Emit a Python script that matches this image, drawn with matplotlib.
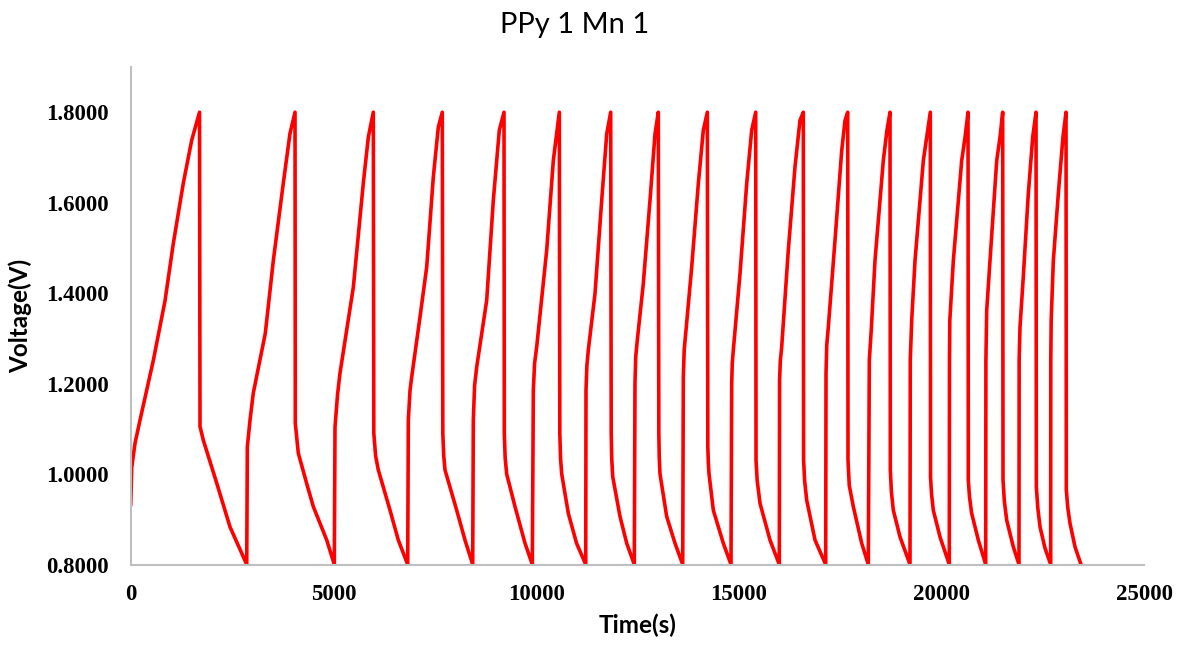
import matplotlib
matplotlib.use("Agg")
import matplotlib.pyplot as plt

# donnees (temps en s, tension en V) -------------------------------------

time_s = [
    0, 25, 106, 229, 557, 846, 1051, 1297, 1504, 1697,          # charge 1
    1709, 1790, 2121, 2449, 2861,                               # decharge 1
    2876, 2942, 3023, 3319, 3517, 3763, 3928, 4052,             # charge 2
    4059, 4133, 4340, 4503, 4834, 5021,                         # decharge 2
    5038, 5100, 5161, 5490, 5736, 5860, 5983,
    5995, 6040, 6106, 6395, 6599, 6831,
    6846, 6888, 6930, 7134, 7300, 7462, 7586, 7684,
    7697, 7720, 7751, 8039, 8244, 8434,
    8449, 8480, 8533, 8779, 8942, 9090, 9206,
    9213, 9235, 9272, 9477, 9724, 9904,
    9929, 9960, 10012, 10259, 10422, 10570,
    10582, 10600, 10629, 10792, 10995, 11221,
    11228, 11250, 11285, 11450, 11615, 11739, 11837,
    11850, 11862, 11887, 12067, 12232, 12419,
    12436, 12455, 12493, 12641, 12806, 12930, 13011,
    13024, 13035, 13053, 13218, 13423, 13613,
    13628, 13650, 13687, 13835, 13998, 14121, 14220,
    14232, 14245, 14262, 14368, 14614, 14804,
    14821, 14835, 14861, 15026, 15191, 15314, 15413,
    15421, 15450, 15520, 15766, 15995,
    16002, 16020, 16054, 16217, 16382, 16505, 16587,
    16594, 16620, 16671, 16876, 17139,
    17147, 17165, 17204, 17369, 17534, 17616, 17682,
    17689, 17720, 17820, 18027, 18190,
    18215, 18262, 18355, 18560, 18650, 18725,
    18733, 18760, 18807, 18972, 19218,
    19225, 19260, 19342, 19547, 19630, 19719,
    19724, 19750, 19793, 19958, 20187,
    20192, 20200, 20287, 20493, 20576, 20649,
    20656, 20685, 20739, 20903, 21085,
    21090, 21110, 21191, 21357, 21438, 21504,
    21512, 21545, 21603, 21766, 21906,
    21910, 21931, 22012, 22136, 22244, 22326,
    22334, 22370, 22425, 22548, 22688,
    22690, 22700, 22753, 22876, 22990, 23066,
    23073, 23110, 23164, 23288, 23435,
]

voltage = [
    0.931, 1.015, 1.068, 1.119, 1.251, 1.383, 1.510, 1.643, 1.738, 1.800,
    1.105, 1.075, 0.980, 0.883, 0.800,
    1.060, 1.119, 1.179, 1.311, 1.472, 1.643, 1.753, 1.800,
    1.112, 1.046, 0.979, 0.928, 0.854, 0.800,
    1.104, 1.175, 1.223, 1.413, 1.643, 1.745, 1.800,
    1.090, 1.040, 1.009, 0.920, 0.854, 0.800,
    1.119, 1.185, 1.215, 1.347, 1.458, 1.656, 1.767, 1.800,
    1.090, 1.040, 1.009, 0.920, 0.854, 0.800,
    1.119, 1.195, 1.237, 1.384, 1.605, 1.760, 1.800,
    1.090, 1.035, 1.000, 0.928, 0.847, 0.800,
    1.185, 1.245, 1.281, 1.495, 1.693, 1.800,
    1.090, 1.035, 1.000, 0.913, 0.847, 0.800,
    1.185, 1.240, 1.274, 1.399, 1.605, 1.752, 1.800,
    1.090, 1.035, 0.994, 0.906, 0.847, 0.800,
    1.201, 1.260, 1.296, 1.421, 1.605, 1.752, 1.800,
    1.090, 1.035, 1.000, 0.906, 0.847, 0.800,
    1.215, 1.275, 1.311, 1.458, 1.642, 1.760, 1.800,
    1.060, 1.025, 1.000, 0.920, 0.847, 0.800,
    1.200, 1.245, 1.274, 1.443, 1.642, 1.760, 1.800,
    1.031, 0.985, 0.935, 0.854, 0.800,
    1.207, 1.250, 1.281, 1.495, 1.679, 1.782, 1.800,
    1.031, 0.985, 0.942, 0.854, 0.800,
    1.222, 1.285, 1.325, 1.517, 1.715, 1.782, 1.800,
    1.031, 0.975, 0.928, 0.847, 0.800,
    1.252, 1.318, 1.472, 1.693, 1.760, 1.800,
    1.009, 0.960, 0.920, 0.861, 0.800,
    1.252, 1.340, 1.472, 1.693, 1.745, 1.800,
    0.994, 0.955, 0.920, 0.861, 0.800,
    1.252, 1.340, 1.472, 1.693, 1.745, 1.800,
    0.987, 0.950, 0.913, 0.854, 0.800,
    1.252, 1.362, 1.472, 1.693, 1.745, 1.800,
    0.987, 0.940, 0.898, 0.839, 0.800,
    1.252, 1.325, 1.436, 1.620, 1.745, 1.800,
    0.972, 0.925, 0.883, 0.836, 0.800,
    1.252, 1.340, 1.472, 1.620, 1.745, 1.800,
    0.965, 0.925, 0.891, 0.839, 0.800,
]

x_ticks = [0, 5000, 10000, 15000, 20000, 25000]
y_ticks = [0.8, 1.0, 1.2, 1.4, 1.6, 1.8]

# figure ----------------------------------------------------------------

fig = plt.figure(figsize=(11.84, 6.49), dpi=100)
ax = fig.add_axes([0.1104, 0.1302, 0.8562, 0.7666])

ax.plot(time_s, voltage, color="#FF0000", linewidth=2.6,
        solid_joinstyle="round", solid_capstyle="round")

ax.set_xlim(0, 25000)
ax.set_ylim(0.8, 1.9)
ax.set_xticks(x_ticks)
ax.set_yticks(y_ticks)
ax.set_xticklabels([str(t) for t in x_ticks])
ax.set_yticklabels(["%.4f" % v for v in y_ticks])

for lab in ax.get_xticklabels() + ax.get_yticklabels():
    lab.set_fontfamily("Liberation Serif")
    lab.set_fontweight("bold")
    lab.set_fontsize(16.5)

ax.tick_params(axis="both", length=0)
ax.tick_params(axis="x", pad=14)
ax.tick_params(axis="y", pad=16)

for side in ["top", "right"]:
    ax.spines[side].set_visible(False)
for side in ["left", "bottom"]:
    ax.spines[side].set_color("#BFBFBF")
    ax.spines[side].set_linewidth(1.5)

ax.set_xlabel("Time(s)", fontfamily="Lato", fontweight="bold", fontsize=17.5, labelpad=6)
ax.set_ylabel("Voltage(V)", fontfamily="Lato", fontweight="bold", fontsize=17.5, labelpad=10)

fig.text(0.485, 0.962, "PPy 1 Mn 1", ha="center", va="center",
         fontfamily="Lato", fontsize=21)

fig.savefig("out.png", dpi=100)
